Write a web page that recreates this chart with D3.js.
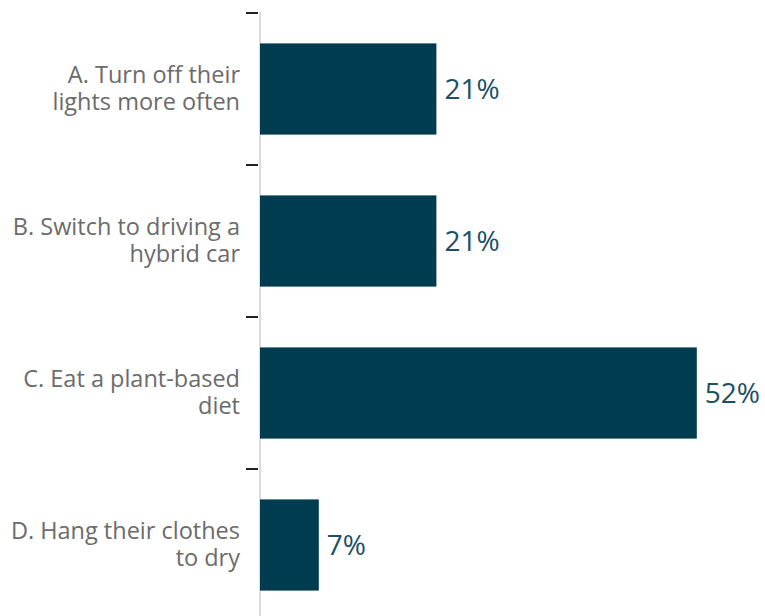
<!DOCTYPE html>
<html><head><meta charset="utf-8">
<script src="https://cdn.jsdelivr.net/npm/d3@7"></script>
<style>body{margin:0;background:#fff}svg{display:block}</style>
</head><body>
<script>
const categories = [
  ["A. Turn off their", "lights more often"],
  ["B. Switch to driving a", "hybrid car"],
  ["C. Eat a plant-based", "diet"],
  ["D. Hang their clothes", "to dry"]
];
const values = [21, 21, 52, 7];
const valueLabels = ["21%", "21%", "52%", "7%"];

const W = 765, H = 616;
const svg = d3.select("body").append("svg").attr("width", W).attr("height", H);

const y = d3.scaleBand().domain(d3.range(categories.length)).range([13, 621]).paddingInner(0.4).paddingOuter(0.2);
const x = d3.scaleLinear().domain([0, 60]).range([260, 764]);

// axis line
svg.append("line").attr("x1", 260).attr("x2", 260).attr("y1", 12).attr("y2", H)
  .attr("stroke", "#d0d0d0").attr("stroke-width", 1.5);
// ticks at band boundaries
const tickYs = d3.range(categories.length).map(i => y(i) - y.step() * y.paddingInner() / 2);
tickYs[0] = y.range()[0];
svg.selectAll("line.tick").data(tickYs).join("line").attr("class", "tick")
  .attr("x1", 246).attr("x2", 258).attr("y1", d => d).attr("y2", d => d)
  .attr("stroke", "#222").attr("stroke-width", 2);

svg.selectAll("rect.bar").data(values).join("rect").attr("class", "bar")
  .attr("x", x(0)).attr("y", (d, i) => y(i)).attr("width", d => x(d) - x(0)).attr("height", y.bandwidth())
  .attr("fill", "#003c50");

svg.selectAll("text.val").data(values).join("text").attr("class", "val")
  .attr("x", d => x(d) + 8).attr("y", (d, i) => y(i) + y.bandwidth() / 2)
  .attr("dy", "0.35em").attr("font-family", "Open Sans, sans-serif").attr("font-size", 28)
  .attr("fill", "#1c5064").text((d, i) => valueLabels[i]);

const cat = svg.selectAll("text.cat").data(categories).join("text").attr("class", "cat")
  .attr("text-anchor", "end").attr("font-family", "Open Sans, sans-serif").attr("font-size", 23.5)
  .attr("fill", "#6b6b6b");
cat.each(function(lines, i) {
  const cy = y(i) + y.bandwidth() / 2;
  d3.select(this).selectAll("tspan").data(lines).join("tspan")
    .attr("x", 240).attr("y", (l, j) => cy - 6 + j * 26.7).text(l => l);
});
</script>
</body></html>
